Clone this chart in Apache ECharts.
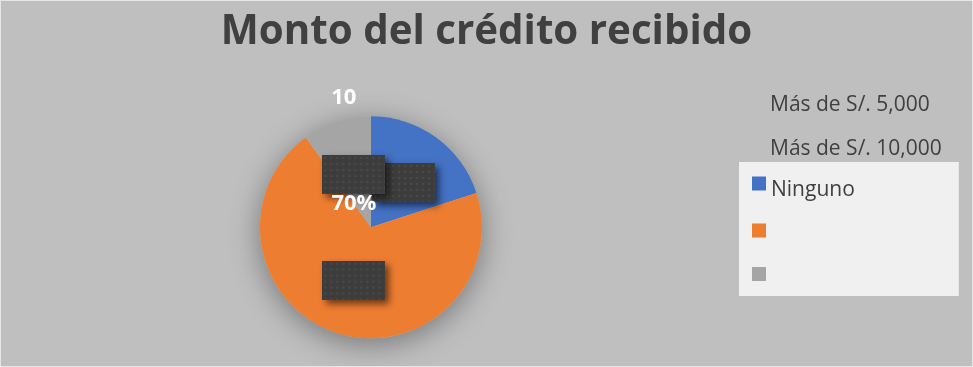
<!DOCTYPE html>
<html>
<head>
<meta charset="utf-8">
<script src="https://cdn.jsdelivr.net/npm/echarts@6/dist/echarts.min.js"></script>
<style>
  html, body { margin: 0; padding: 0; background: #ffffff; }
  #chart { width: 973px; height: 367px; box-sizing: border-box; border: 1px solid #e6e6e6; background: #bfbfbf; }
</style>
</head>
<body>
<div id="chart"></div>
<script>
// Credit amount categories and their shares (%)
const categories = ['Ninguno', 'Más de S/. 5,000', 'Más de S/. 10,000'];
const shares = [20, 70, 10];
const sliceColors = ['#4472c4', '#ed7d31', '#a5a5a5'];
const titleText = 'Monto del crédito recibido';

// Dark dotted tile used behind the data labels
function makeTile(w, h) {
  const c = document.createElement('canvas');
  c.width = w; c.height = h;
  const g = c.getContext('2d');
  g.fillStyle = '#3d3d3d';
  g.fillRect(0, 0, w, h);
  for (let y = 2; y < h; y += 6) {
    for (let x = 2; x < w; x += 6) {
      g.fillStyle = '#4a4a4a';
      g.fillRect(x, y, 2, 2);
      g.fillStyle = '#363636';
      g.fillRect(x + 3, y + 3, 1, 1);
    }
  }
  return c;
}
const tile = makeTile(63, 39);

const pieData = categories.map((name, i) => ({
  name: name,
  value: shares[i],
  itemStyle: { color: sliceColors[i] }
}));

const center = ['38.1%', '62%'];
const radius = 111;

// mid-angle of each slice (clockwise from 12 o'clock), used to put the
// label boxes half-way along each slice's radius
const total = shares.reduce((a, b) => a + b, 0);
const midAngles = shares.map((v, i) => {
  const before = shares.slice(0, i).reduce((a, b) => a + b, 0);
  return (before + v / 2) / total * Math.PI * 2;
});
const boxOffset = i => ({
  dx: Math.sin(midAngles[i]) * radius / 2,
  dy: -Math.cos(midAngles[i]) * radius / 2
});

const legendFont = { fontFamily: 'Open Sans', fontSize: 21, color: '#404040' };

const chart = echarts.init(document.getElementById('chart'));
chart.setOption({
  animation: false,
  title: {
    text: titleText,
    left: 'center',
    top: 7,
    textStyle: { fontFamily: 'Open Sans', fontWeight: 'bold', fontSize: 40.3, color: '#404040' }
  },
  legend: [
    {
      orient: 'vertical',
      left: 738,
      top: 161,
      data: categories,
      formatter: name => (name === categories[0] ? '{n|' + name + '}' : ' '),
      backgroundColor: '#f0f0f0',
      padding: [4, 104, 8, 13],
      itemWidth: 14,
      itemHeight: 14,
      itemGap: 15.5,
      icon: 'rect',
      textStyle: Object.assign({}, legendFont, {
        lineHeight: 28,
        rich: { n: Object.assign({}, legendFont, { lineHeight: 14, padding: [14, 0, 0, 0] }) }
      })
    },
    {
      orient: 'vertical',
      left: 750,
      top: 94,
      padding: 0,
      data: categories.slice(1).map(n => ({ name: n, icon: 'none' })),
      itemWidth: 14,
      itemHeight: 14,
      itemGap: 23,
      textStyle: Object.assign({}, legendFont, { lineHeight: 14 })
    }
  ],
  series: [
    {
      // soft shadow disc under the pie
      type: 'pie',
      silent: true,
      center: center,
      radius: radius,
      label: { show: false },
      labelLine: { show: false },
      itemStyle: { color: '#bfbfbf', shadowBlur: 30, shadowColor: 'rgba(0,0,0,0.38)', shadowOffsetY: 6 },
      data: [{ value: 1, name: '' }],
      legendHoverLink: false,
      z: 1
    },
    {
      type: 'pie',
      center: center,
      radius: radius,
      startAngle: 90,
      clockwise: true,
      avoidLabelOverlap: false,
      data: pieData,
      label: {
        show: true,
        position: 'center',
        formatter: '{box| }',
        rich: {
          box: {
            width: 63,
            height: 39,
            backgroundColor: { image: tile },
            shadowColor: 'rgba(0,0,0,0.55)',
            shadowBlur: 7,
            shadowOffsetX: 4,
            shadowOffsetY: 4
          }
        }
      },
      labelLayout: p => boxOffset(p.dataIndex),
      labelLine: { show: false },
      z: 2
    },
    {
      // value texts
      type: 'pie',
      silent: true,
      center: center,
      radius: radius,
      startAngle: 90,
      avoidLabelOverlap: false,
      data: pieData.map(d => ({ name: d.name, value: d.value, itemStyle: { color: 'rgba(0,0,0,0)' } })),
      label: {
        show: true,
        position: 'inside',
        fontFamily: 'Open Sans',
        fontWeight: 'bold',
        fontSize: 22,
        color: '#ffffff',
        formatter: p => (p.dataIndex === 2 ? String(p.value) : p.dataIndex === 1 ? p.value + '%' : '')
      },
      labelLayout: p => (p.dataIndex === 2 ? { dx: -9, dy: -74 } : p.dataIndex === 1 ? { dx: 1, dy: -79 } : {}),
      labelLine: { show: false },
      z: 3
    }
  ]
});
</script>
</body>
</html>
